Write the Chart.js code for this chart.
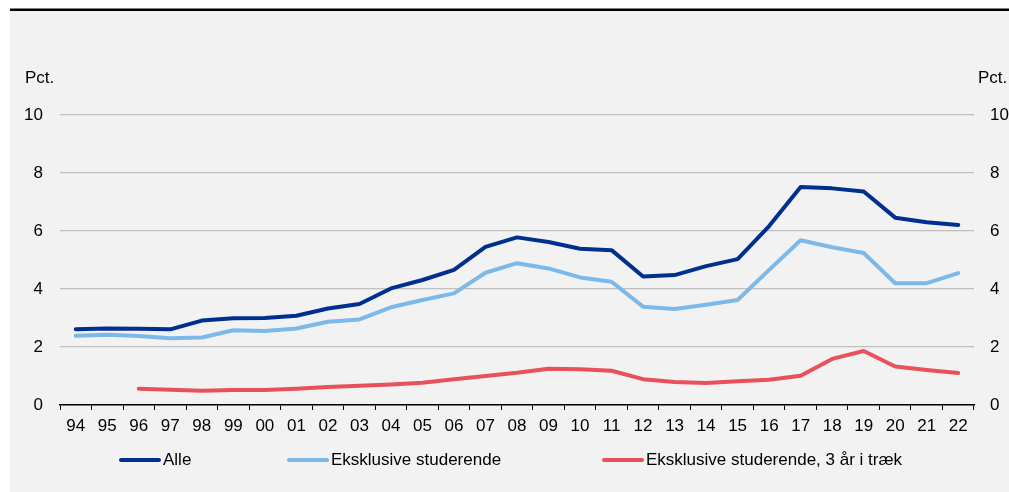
<!DOCTYPE html>
<html>
<head>
<meta charset="utf-8">
<script src="https://cdn.jsdelivr.net/npm/chart.js@4/dist/chart.umd.min.js"></script>
<style>
html,body{margin:0;padding:0;background:#fff;}
canvas{display:block;}
</style>
</head>
<body>
<canvas id="c" width="1009" height="492"></canvas>
<script>
const categories = ["94","95","96","97","98","99","00","01","02","03","04","05","06","07","08","09","10","11","12","13","14","15","16","17","18","19","20","21","22"];
const alle = [2.61,2.64,2.63,2.61,2.91,2.99,3.00,3.08,3.33,3.48,4.02,4.31,4.66,5.45,5.78,5.62,5.39,5.34,4.43,4.48,4.79,5.03,6.17,7.52,7.47,7.36,6.46,6.30,6.21];
const eksklStud = [2.39,2.42,2.38,2.30,2.33,2.58,2.55,2.64,2.87,2.95,3.37,3.62,3.85,4.56,4.89,4.71,4.40,4.25,3.39,3.31,3.46,3.62,4.66,5.68,5.44,5.24,4.20,4.20,4.55];
const eksklStud3 = [null,null,0.56,0.53,0.49,0.52,0.52,0.56,0.62,0.66,0.71,0.77,0.89,1.00,1.11,1.25,1.23,1.18,0.89,0.79,0.76,0.82,0.87,1.01,1.59,1.86,1.33,1.21,1.10];
const seriesNames = ["Alle","Eksklusive studerende","Eksklusive studerende, 3 år i træk"];
const yTicks = [0,2,4,6,8,10];
const unitLabel = "Pct.";

const colors = ["#00308f","#7db9e8","#e8505b"];
const FONT = "Arial, 'Liberation Sans', sans-serif";
const FS = 17;

const bgPlugin = {
  id: 'bg',
  beforeDraw(chart) {
    const ctx = chart.ctx;
    ctx.save();
    ctx.fillStyle = '#ffffff';
    ctx.fillRect(0, 0, chart.width, chart.height);
    ctx.fillStyle = '#f2f2f2';
    ctx.fillRect(10, 11, chart.width - 10, chart.height - 11);
    ctx.fillStyle = '#000000';
    ctx.fillRect(10, 8.5, chart.width - 10, 2.5);
    ctx.restore();
  },
  afterDraw(chart) {
    const ctx = chart.ctx;
    ctx.save();
    ctx.font = FS + "px " + FONT;
    ctx.fillStyle = '#000';
    ctx.textBaseline = 'alphabetic';
    ctx.textAlign = 'left';
    ctx.fillText(unitLabel, 25, 83);
    ctx.fillText(unitLabel, 978, 83);
    // legend
    const xs = [120, 288, 603];
    const ly = 460;
    chart.data.datasets.forEach((ds, i) => {
      ctx.strokeStyle = ds.borderColor;
      ctx.lineWidth = 4;
      ctx.lineCap = 'round';
      ctx.beginPath();
      ctx.moveTo(xs[i] + 1, ly);
      ctx.lineTo(xs[i] + 39, ly);
      ctx.stroke();
      ctx.fillStyle = '#000';
      ctx.textBaseline = 'middle';
      ctx.fillText(ds.label, xs[i] + 43, ly);
    });
    ctx.restore();
  }
};

const mkDs = (label, data, color) => ({
  label, data,
  borderColor: color,
  backgroundColor: color,
  borderWidth: 4,
  pointRadius: 0,
  pointHoverRadius: 0,
  tension: 0,
  borderCapStyle: 'round',
  borderJoinStyle: 'round',
  fill: false,
  yAxisID: 'y'
});

new Chart(document.getElementById('c'), {
  type: 'line',
  data: {
    labels: categories,
    datasets: [
      mkDs(seriesNames[0], alle, colors[0]),
      mkDs(seriesNames[1], eksklStud, colors[1]),
      mkDs(seriesNames[2], eksklStud3, colors[2])
    ]
  },
  plugins: [bgPlugin],
  options: {
    responsive: false,
    devicePixelRatio: 1,
    animation: false,
    layout: { padding: { left: 10, right: 0, top: 115, bottom: 47 } },
    plugins: { legend: { display: false }, tooltip: { enabled: false } },
    scales: {
      x: {
        type: 'category',
        offset: true,
        grid: { offset: true, drawOnChartArea: false, drawTicks: true, tickLength: 5, color: '#000', lineWidth: 1 },
        border: { display: true, color: '#000', width: 1.5 },
        ticks: { font: { family: FONT, size: FS }, color: '#000', padding: 6, maxRotation: 0, autoSkip: false },
        afterFit(s) { s.height = 40; }
      },
      y: {
        position: 'left',
        min: 0, max: 10,
        afterBuildTicks(s) { s.ticks = yTicks.map(v => ({ value: v })); },
        grid: { color: '#bfbfbf', lineWidth: 1.2, drawTicks: false },
        border: { display: false },
        ticks: { font: { family: FONT, size: FS }, color: '#000', padding: 17 },
        afterFit(s) { s.width = 50; }
      },
      y2: {
        position: 'right',
        min: 0, max: 10,
        afterBuildTicks(s) { s.ticks = yTicks.map(v => ({ value: v })); },
        grid: { drawOnChartArea: false, drawTicks: false },
        border: { display: false },
        ticks: { font: { family: FONT, size: FS }, color: '#000', padding: 16 },
        afterFit(s) { s.width = 35; }
      }
    }
  }
});
</script>
</body>
</html>
